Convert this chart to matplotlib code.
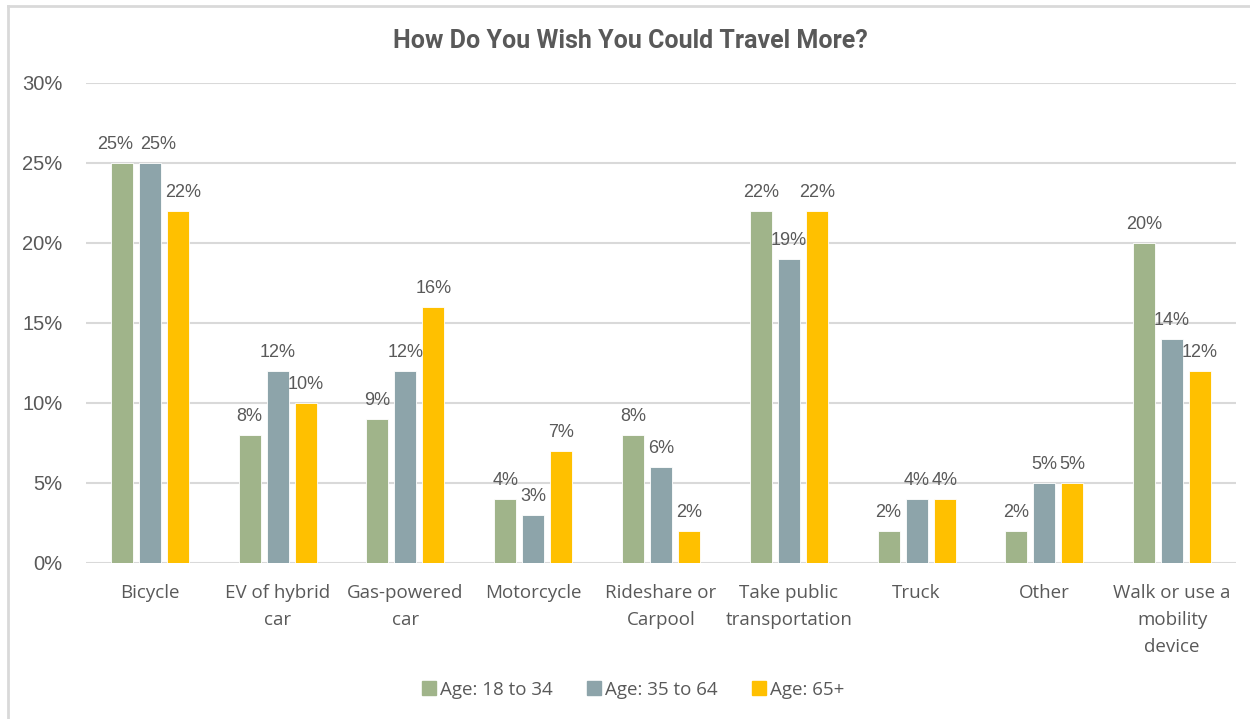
import matplotlib
matplotlib.use("Agg")
import matplotlib.pyplot as plt
import numpy as np
from matplotlib.lines import Line2D

categories = ["Bicycle", "EV of hybrid\ncar", "Gas-powered\ncar", "Motorcycle",
              "Rideshare or\nCarpool", "Take public\ntransportation", "Truck", "Other",
              "Walk or use a\nmobility\ndevice"]
series_names = ["Age: 18 to 34", "Age: 35 to 64", "Age: 65+"]
age_18_34 = [25, 8, 9, 4, 8, 22, 2, 2, 20]
age_35_64 = [25, 12, 12, 3, 6, 19, 4, 5, 14]
age_65_plus = [22, 10, 16, 7, 2, 22, 4, 5, 12]
y_ticks = [0, 5, 10, 15, 20, 25, 30]
title = "How Do You Wish You Could Travel More?"

colors = ["#A0B48A", "#8DA4AA", "#FFC000"]
text_color = "#595959"
grid_color = "#D9D9D9"

# manual horizontal nudges (points) of data labels, as in the reference: (series, category) -> dx
label_nudge = {(0, 0): -5, (1, 0): 6, (2, 0): 4}

W, H = 1250, 719
fig = plt.figure(figsize=(W / 100, H / 100), dpi=100)
fig.patch.set_facecolor("white")

ax = fig.add_axes([86 / W, 1 - 563 / H, (1236 - 86) / W, (563 - 83) / H])

x = np.arange(len(categories))
bw = 0.172
step = 0.219
series = [age_18_34, age_35_64, age_65_plus]
for i, (vals, c) in enumerate(zip(series, colors)):
    pos = x + (i - 1) * step
    bars = ax.bar(pos, vals, width=bw, color=c, edgecolor="white", linewidth=0.6, zorder=3)
    for j, (b, v) in enumerate(zip(bars, vals)):
        dx = label_nudge.get((i, j), 0)
        ax.annotate(f"{v}%", (b.get_x() + b.get_width() / 2, v), xytext=(dx, 7),
                    textcoords="offset points", ha="center", va="bottom",
                    fontsize=13, color=text_color, family="Liberation Sans", zorder=4)

ax.set_xlim(-0.5, len(categories) - 0.5)
ax.set_ylim(0, 30)
ax.set_yticks(y_ticks)
ax.set_yticklabels([f"{t}%" for t in y_ticks], family="Liberation Sans", fontsize=14.5, color=text_color)
ax.set_xticks(x)
ax.set_xticklabels(categories, family="Open Sans", fontsize=13.5, color=text_color, linespacing=1.65)
ax.tick_params(axis="y", length=0, pad=17)
ax.tick_params(axis="x", length=0, pad=15)
for s in ax.spines.values():
    s.set_visible(False)
ax.yaxis.grid(True, color=grid_color, linewidth=1.5, zorder=0)
ax.set_axisbelow(True)

fig.text(630 / W, 1 - 41 / H, title, ha="center", va="center", fontsize=18,
         fontweight="bold", color=text_color, family=["Roboto", "DejaVu Sans"])

handles = [Line2D([0], [0], marker="s", linestyle="none", markersize=9.5,
                  markerfacecolor=c, markeredgecolor=c) for c in colors]
fig.legend(handles, series_names, loc="center", bbox_to_anchor=(633 / W, 1 - 690 / H),
           ncol=3, frameon=False, prop={"family": "Open Sans", "size": 13.5},
           labelcolor=text_color, handletextpad=0.2, columnspacing=1.8, handlelength=0.8)

# chart border (top and left visible)
fig.add_artist(Line2D([8 / W, 8 / W], [0, 1 - 6 / H], color=grid_color, linewidth=2, transform=fig.transFigure))
fig.add_artist(Line2D([8 / W, 1], [1 - 6 / H, 1 - 6 / H], color=grid_color, linewidth=2, transform=fig.transFigure))

fig.savefig("out.png", dpi=100)
